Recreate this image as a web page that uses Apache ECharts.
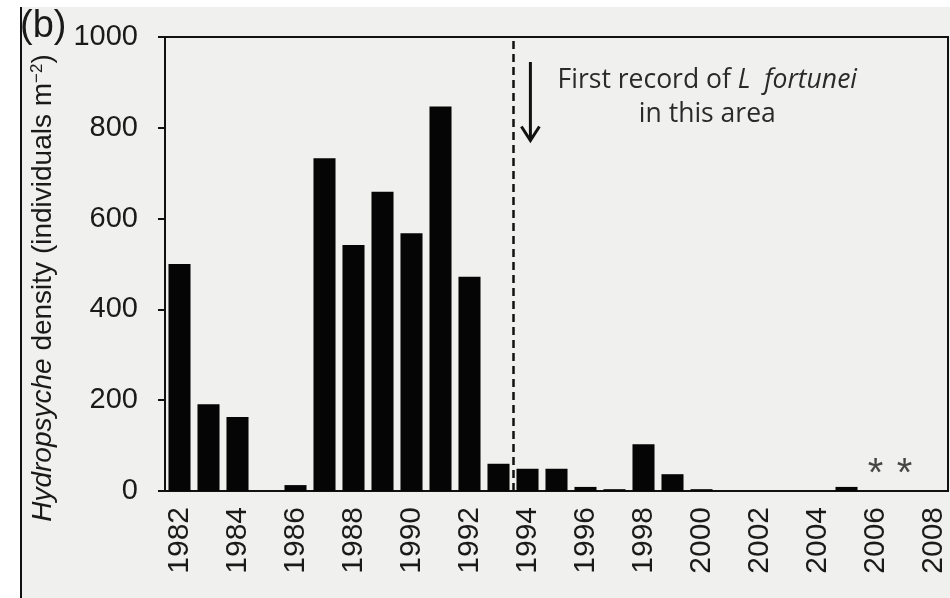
<!DOCTYPE html>
<html>
<head>
<meta charset="utf-8">
<script src="https://cdn.jsdelivr.net/npm/echarts@6/dist/echarts.min.js"></script>
<style>
  html, body { margin: 0; padding: 0; background: #fff; }
  #chart { width: 950px; height: 598px; }
</style>
</head>
<body>
<div id="chart"></div>
<script>
// Survey years (one bar per year)
const years = ['1982','1983','1984','1985','1986','1987','1988','1989','1990','1991',
  '1992','1993','1994','1995','1996','1997','1998','1999','2000','2001',
  '2002','2003','2004','2005','2006','2007','2008'];

// Hydropsyche density, individuals per m² (null = not sampled)
const density = [500, 191, 163, 0, 13, 733, 542, 659, 568, 847,
  472, 60, 49, 49, 9, 4, 103, 37, 4, 0,
  0, 0, 0, 9, null, null, 0];

// Years flagged with an asterisk, and the height where the flag sits
const flaggedYears = [2006, 2007];
const flagLevel = 50;

// First record of Limnoperna fortunei (between 1993 and 1994 samples)
const firstRecord = 1993.5;

// Arrow and note placement (year, density)
const arrowFrom = [1994.1, 945];
const arrowTo = [1994.1, 772];
const notePos = [2000.2, 866];

const yTicks = { min: 0, max: 1000, step: 200 };

const AX = '#111';
const SANS = 'Liberation Sans, Arial, sans-serif';
const chart = echarts.init(document.getElementById('chart'), null, { renderer: 'canvas' });

const option = {
  animation: false,
  backgroundColor: '#fff',
  textStyle: { fontFamily: SANS },
  grid: {
    left: 165, right: 2, top: 37, bottom: 107,
    show: true, borderColor: AX, borderWidth: 2, backgroundColor: 'transparent'
  },
  xAxis: [
    {
      type: 'category',
      data: years,
      axisLine: { lineStyle: { color: AX, width: 2 } },
      axisTick: { interval: 0, length: 9, alignWithLabel: false, lineStyle: { color: AX, width: 2 } },
      axisLabel: { interval: 1, rotate: 90, margin: 16, fontSize: 30, color: '#1a1a1a', fontFamily: SANS },
      splitLine: { show: false }
    },
    { type: 'value', min: 1981.5, max: 2008.5, show: false }
  ],
  yAxis: {
    type: 'value',
    min: yTicks.min, max: yTicks.max, interval: yTicks.step,
    splitLine: { show: false },
    axisLine: { show: true, lineStyle: { color: AX, width: 2 } },
    axisTick: { show: true, length: 7, lineStyle: { color: AX, width: 2 } },
    axisLabel: { margin: 27, fontSize: 29, color: '#1a1a1a', fontFamily: SANS, formatter: v => String(v) },
    name: '{i|Hydropsyche} density (individuals m{sup|−2})',
    nameLocation: 'middle',
    nameGap: 108,
    nameTextStyle: {
      fontSize: 28, color: '#1a1a1a', fontFamily: SANS,
      padding: [0, 48, 0, 0],
      rich: {
        i: { fontStyle: 'italic', fontSize: 28, color: '#1a1a1a', fontFamily: SANS },
        sup: { fontSize: 17, verticalAlign: 'top', color: '#1a1a1a', fontFamily: SANS, padding: [0, 0, 11, 0] }
      }
    }
  },
  series: [
    {
      type: 'bar',
      data: density,
      barCategoryGap: '24%',
      itemStyle: { color: '#050505' }
    },
    {
      type: 'scatter',
      xAxisIndex: 1,
      data: flaggedYears.map(y => [y, flagLevel]),
      symbolSize: 1,
      itemStyle: { color: 'rgba(0,0,0,0)' },
      label: { show: true, formatter: '*', position: 'inside', fontSize: 40, color: '#1a1a1a', fontFamily: SANS, offset: [0, 7] },
      markLine: {
        silent: true,
        symbol: 'none',
        label: { show: false },
        lineStyle: { type: [8, 5], width: 2.5, color: AX },
        data: [{ xAxis: firstRecord }]
      }
    }
  ]
};
chart.setOption(option);

// Arrow and note, placed in data coordinates
const toPx = p => chart.convertToPixel({ xAxisIndex: 1, yAxisIndex: 0 }, p);
const a0 = toPx(arrowFrom), a1 = toPx(arrowTo), np = toPx(notePos);

chart.setOption({
  graphic: [
    { type: 'rect', z: -100, silent: true, shape: { x: 21, y: 7, width: 929, height: 591 }, style: { fill: '#f0f1ef' } },
    { type: 'line', silent: true, shape: { x1: 21, y1: 7, x2: 21, y2: 598 }, style: { stroke: '#111', lineWidth: 2 } },
    { type: 'text', left: 20, top: 8, style: { text: '(b)', fontSize: 38, fill: '#1a1a1a', fontFamily: SANS } },
    { type: 'line', silent: true, shape: { x1: a0[0], y1: a0[1], x2: a1[0], y2: a1[1] - 1 }, style: { stroke: '#111', lineWidth: 3 } },
    { type: 'polyline', silent: true, shape: { points: [[a1[0] - 9, a1[1] - 14], [a1[0], a1[1]], [a1[0] + 9, a1[1] - 14]] }, style: { stroke: '#111', lineWidth: 3, fill: null } },
    {
      type: 'text', silent: true, x: np[0], y: np[1],
      style: {
        text: 'First record of {i|L  fortunei}\nin this area',
        align: 'center', verticalAlign: 'middle',
        fontSize: 26.5, lineHeight: 34, fill: '#2a2a2a', fontFamily: 'Open Sans',
        rich: { i: { fontStyle: 'italic', fontSize: 26.5, fill: '#2a2a2a', fontFamily: 'Open Sans' } }
      }
    }
  ]
});
</script>
</body>
</html>
